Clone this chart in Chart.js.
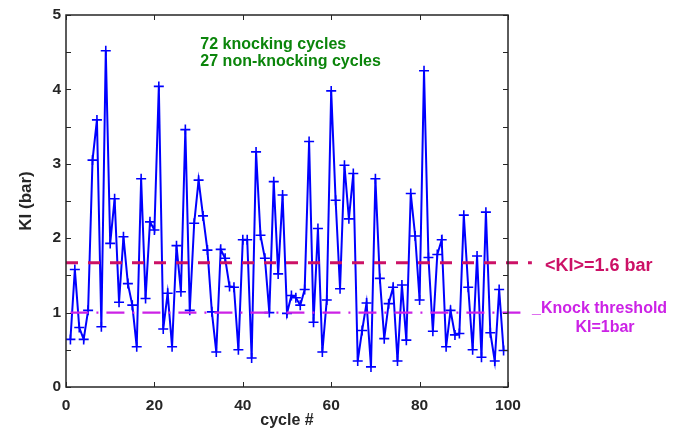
<!DOCTYPE html>
<html>
<head>
<meta charset="utf-8">
<script src="https://cdn.jsdelivr.net/npm/chart.js@4"></script>
<style>
  html, body { margin: 0; padding: 0; background: #ffffff; }
  #wrap { width: 683px; height: 430px; }
</style>
</head>
<body>
<div id="wrap"><canvas id="c" width="683" height="430"></canvas></div>
<script>
// ---- data ----
const cycles = [1,2,3,4,5,6,7,8,9,10,11,12,13,14,15,16,17,18,19,20,
  21,22,23,24,25,26,27,28,29,30,31,32,33,34,35,36,37,38,39,40,
  41,42,43,44,45,46,47,48,49,50,51,52,53,54,55,56,57,58,59,60,
  61,62,63,64,65,66,67,68,69,70,71,72,73,74,75,76,77,78,79,80,
  81,82,83,84,85,86,87,88,89,90,91,92,93,94,95,96,97,98,99];
const kiValues = [0.64,1.58,0.80,0.64,1.03,3.05,3.59,0.81,4.52,1.93,
  2.53,1.14,2.02,1.39,1.10,0.54,2.80,1.19,2.22,2.11,
  4.04,0.78,1.26,0.54,1.90,1.28,3.46,1.03,2.20,2.78,
  2.30,1.84,1.01,0.47,1.85,1.73,1.35,1.34,0.50,1.98,
  1.98,0.39,3.16,2.04,1.73,1.00,2.76,1.52,2.58,0.99,
  1.23,1.20,1.10,1.31,3.30,0.87,2.13,0.47,1.17,3.98,
  2.51,1.32,2.98,2.26,2.87,0.35,0.76,1.13,0.27,2.80,
  1.46,0.65,1.12,1.34,0.35,1.37,0.63,2.60,2.03,1.17,
  4.25,1.74,0.75,1.78,1.98,0.54,1.03,0.70,0.72,2.31,
  1.34,0.50,1.76,0.40,2.35,0.73,0.35,1.31,0.49];
const meanKI = 1.67;          // dashed crimson line
const meanLineX = [0, 105.4];
const thresholdKI = 1.0;      // dash-dot magenta line
const thresholdLineX = [1, 103.6];
const xTickLabels = ['0','20','40','60','80','100'];
const yTickLabels = ['0','1','2','3','4','5'];
const infoLines = ['72 knocking cycles', '27 non-knocking cycles'];
const meanLabel = '<KI>=1.6 bar';
const thresholdLabels = ['_Knock threshold', 'KI=1bar'];
const xTitle = 'cycle #';
const yTitle = 'KI (bar)';

const FONT = "'Liberation Sans', Arial, Helvetica, sans-serif";
const AXIS_COLOR = '#262626';

const framePlugin = {
  id: 'frame',
  afterDatasetsDraw(chart) {
    const {ctx, chartArea: a, scales: {x, y}} = chart;
    ctx.save();
    ctx.strokeStyle = AXIS_COLOR;
    ctx.lineWidth = 1.5;
    ctx.strokeRect(a.left, a.top, a.right - a.left, a.bottom - a.top);
    ctx.lineWidth = 1;
    const tl = 5;
    ctx.beginPath();
    y.ticks.forEach(t => {
      const py = Math.round(y.getPixelForValue(t.value)) + 0.5;
      ctx.moveTo(a.left, py); ctx.lineTo(a.left + tl, py);
      ctx.moveTo(a.right, py); ctx.lineTo(a.right - tl, py);
    });
    x.ticks.forEach(t => {
      const px = Math.round(x.getPixelForValue(t.value)) + 0.5;
      ctx.moveTo(px, a.bottom); ctx.lineTo(px, a.bottom - tl);
      ctx.moveTo(px, a.top); ctx.lineTo(px, a.top + tl);
    });
    ctx.stroke();
    ctx.restore();
  },
  afterDraw(chart) {
    const {ctx, chartArea: a, scales: {x, y}} = chart;
    ctx.save();
    ctx.textBaseline = 'middle';
    ctx.textAlign = 'left';
    // green info text
    ctx.fillStyle = '#0b850b';
    ctx.font = 'bold 16px ' + FONT;
    const tx = x.getPixelForValue(30.4);
    ctx.fillText(infoLines[0], tx, y.getPixelForValue(4.6));
    ctx.fillText(infoLines[1], tx, y.getPixelForValue(4.37));
    // mean label
    ctx.fillStyle = '#cc1166';
    ctx.font = 'bold 18px ' + FONT;
    ctx.fillText(meanLabel, a.right + 37, y.getPixelForValue(meanKI) + 3);
    // threshold labels
    ctx.fillStyle = '#cc22e6';
    ctx.font = 'bold 16px ' + FONT;
    const ty = y.getPixelForValue(thresholdKI);
    ctx.fillText(thresholdLabels[0], a.right + 24, ty - 4);
    ctx.textAlign = 'center';
    ctx.fillText(thresholdLabels[1], a.right + 97, ty + 15);
    ctx.restore();
  }
};

new Chart(document.getElementById('c'), {
  type: 'line',
  data: {
    datasets: [
      {
        label: 'KI',
        data: cycles.map((c, i) => ({x: c, y: kiValues[i]})),
        borderColor: '#0000ff',
        backgroundColor: '#0000ff',
        borderWidth: 2,
        pointStyle: 'cross',
        pointRadius: 5,
        pointBorderWidth: 1.6,
        pointBorderColor: '#0000ff',
        tension: 0,
        order: 3
      },
      {
        label: 'mean',
        data: meanLineX.map(v => ({x: v, y: meanKI})),
        borderColor: '#cc1166',
        borderWidth: 3,
        borderDash: [12, 10],
        pointRadius: 0,
        clip: false,
        order: 2
      },
      {
        label: 'threshold',
        data: thresholdLineX.map(v => ({x: v, y: thresholdKI})),
        borderColor: '#cc22e6',
        borderWidth: 2.2,
        borderDash: [18, 8, 2, 8],
        pointRadius: 0,
        clip: false,
        order: 1
      }
    ]
  },
  options: {
    responsive: false,
    animation: false,
    events: [],
    layout: { padding: { left: 0, top: 15, right: 175, bottom: 0 } },
    plugins: { legend: { display: false }, tooltip: { enabled: false } },
    scales: {
      x: {
        type: 'linear',
        min: 0, max: 100,
        grid: { display: false, drawTicks: false },
        border: { display: false },
        afterFit(s) { s.height = 43; },
        ticks: {
          stepSize: 20,
          padding: 9,
          color: AXIS_COLOR,
          font: { family: FONT, size: 15.5, weight: 'bold' },
          maxRotation: 0,
          callback: (v) => xTickLabels[Math.round(v / 20)] ?? ''
        },
        title: {
          display: true,
          text: xTitle,
          color: AXIS_COLOR,
          font: { family: FONT, size: 16, weight: 'bold', lineHeight: 1.2 },
          padding: { top: 1, bottom: 0 }
        }
      },
      y: {
        type: 'linear',
        min: 0, max: 5,
        grid: { display: false, drawTicks: false },
        border: { display: false },
        afterFit(s) { s.width = 66; },
        ticks: {
          stepSize: 0.5,
          padding: 5,
          color: AXIS_COLOR,
          font: { family: FONT, size: 15.5, weight: 'bold' },
          autoSkip: false,
          callback: (v) => Number.isInteger(v) ? (yTickLabels[v] ?? '') : ''
        },
        title: {
          display: true,
          text: yTitle,
          color: AXIS_COLOR,
          font: { family: FONT, size: 17, weight: 'bold', lineHeight: 1.2 },
          padding: { top: 16, bottom: 0 }
        }
      }
    }
  },
  plugins: [framePlugin]
});
</script>
</body>
</html>
